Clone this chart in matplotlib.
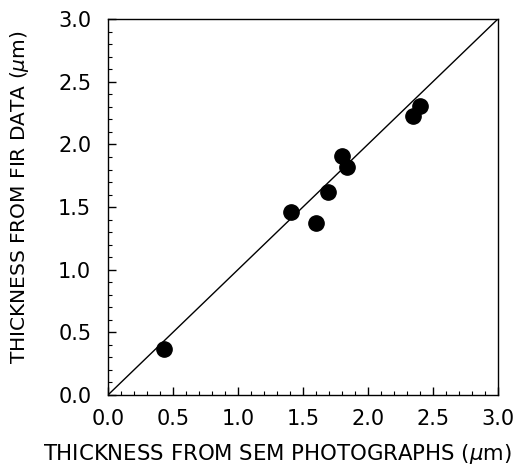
import numpy as np
import matplotlib.pyplot as plt

plt.rcParams['font.family'] = ['DejaVu Sans']

# thickness values (um)
sem_thickness = [0.43, 1.41, 1.60, 1.69, 1.80, 1.84, 2.35, 2.40]
fir_thickness = [0.37, 1.46, 1.37, 1.62, 1.91, 1.82, 2.23, 2.31]
ticks = [0.0, 0.5, 1.0, 1.5, 2.0, 2.5, 3.0]

fig = plt.figure(figsize=(5.19, 4.68), dpi=100)
ax = fig.add_axes([0.208, 0.156, 0.751, 0.803])

# 1:1 line
ax.plot([0, 3], [0, 3], color="black", linewidth=1.0)
ax.plot(sem_thickness, fir_thickness, "o", color="black", markersize=11)

ax.set_xlim(0, 3)
ax.set_ylim(0, 3)
ax.set_xticks(ticks)
ax.set_yticks(ticks)
ax.set_xticklabels([f"{t:.1f}" for t in ticks])
ax.set_yticklabels([f"{t:.1f}" for t in ticks])
ax.set_xticks(np.arange(0, 3.01, 0.1), minor=True)
ax.set_yticks(np.arange(0, 3.01, 0.1), minor=True)
ax.tick_params(which="major", direction="in", length=6, width=1, labelsize=15)
ax.tick_params(axis="x", which="major", pad=10)
ax.tick_params(axis="y", which="major", pad=12)
ax.tick_params(which="minor", direction="in", length=3, width=0.8)
for s in ax.spines.values():
    s.set_linewidth(1.0)

ax.set_xlabel(r"THICKNESS FROM SEM PHOTOGRAPHS ($\mu$m)", fontsize=15.3)
ax.set_ylabel(r"THICKNESS FROM FIR DATA ($\mu$m)", fontsize=14.5)
ax.xaxis.set_label_coords(0.434, -0.125)
ax.yaxis.set_label_coords(-0.198, 0.527)

plt.savefig("out.png", dpi=100)
